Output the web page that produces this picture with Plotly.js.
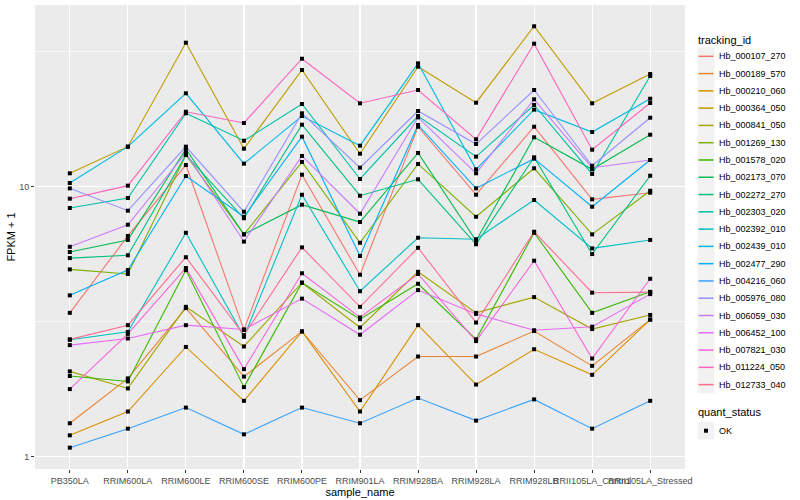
<!DOCTYPE html>
<html>
<head>
<meta charset="utf-8">
<script src="https://cdn.plot.ly/plotly-3.0.1.min.js"></script>
<style>html,body{margin:0;padding:0;background:#fff}#chart{width:800px;height:500px}</style>
</head>
<body>
<div id="chart"></div>
<script>
// ---- data (FPKM + 1) ----
const samples = ['PB350LA','RRIM600LA','RRIM600LE','RRIM600SE','RRIM600PE','RRIM901LA','RRIM928BA','RRIM928LA','RRIM928LB','RRII105LA_Control','RRII105LA_Stressed'];
const trackingIds = ['Hb_000107_270','Hb_000189_570','Hb_000210_060','Hb_000364_050','Hb_000841_050','Hb_001269_130','Hb_001578_020','Hb_002173_070','Hb_002272_270','Hb_002303_020','Hb_002392_010','Hb_002439_010','Hb_002477_290','Hb_004216_060','Hb_005976_080','Hb_006059_030','Hb_006452_100','Hb_007821_030','Hb_011224_050','Hb_012733_040'];
const hb_000107_270 = [3.41, 6.57, 12.03, 2.95, 11.08, 4.72, 16.68, 9.34, 16.68, 8.98, 9.50];
const hb_000189_570 = [1.33, 1.95, 3.55, 1.98, 2.91, 1.62, 2.35, 2.35, 2.92, 2.17, 3.22];
const hb_000210_060 = [1.20, 1.47, 2.55, 1.61, 2.91, 1.47, 3.07, 1.85, 2.50, 2.01, 3.22];
const hb_000364_050 = [11.21, 14.07, 34.15, 13.83, 27.05, 13.25, 27.83, 20.47, 39.28, 20.37, 26.15];
const hb_000841_050 = [2.07, 1.79, 3.59, 2.56, 4.41, 3.01, 4.84, 3.41, 3.90, 2.97, 3.35];
const hb_001269_130 = [4.94, 4.75, 13.11, 6.66, 12.35, 6.20, 12.14, 7.74, 11.70, 6.66, 9.66];
const hb_001578_020 = [1.99, 1.90, 4.91, 1.81, 4.41, 3.23, 4.37, 2.72, 6.75, 3.41, 4.08];
const hb_002173_070 = [5.73, 6.35, 13.79, 6.66, 8.58, 7.40, 13.33, 6.31, 15.24, 11.60, 15.58];
const hb_002272_270 = [5.44, 5.57, 13.11, 7.64, 16.97, 9.26, 10.65, 6.12, 12.85, 5.63, 10.98];
const hb_002303_020 = [8.34, 9.08, 18.70, 14.80, 20.25, 10.68, 18.27, 12.92, 20.07, 11.15, 25.70];
const hb_002392_010 = [2.71, 2.90, 6.75, 2.78, 9.34, 4.10, 6.47, 6.39, 8.93, 5.91, 6.35];
const hb_002439_010 = [10.32, 14.07, 22.18, 12.17, 18.27, 14.19, 28.64, 11.60, 19.29, 15.94, 21.18];
const hb_002477_290 = [3.96, 4.91, 10.95, 7.74, 15.32, 5.54, 16.93, 9.86, 12.70, 8.43, 12.56];
const hb_004216_060 = [1.08, 1.27, 1.52, 1.21, 1.52, 1.33, 1.65, 1.36, 1.63, 1.27, 1.61];
const hb_005976_080 = [9.86, 8.15, 14.07, 8.08, 18.70, 11.76, 19.07, 14.39, 22.81, 11.96, 18.01];
const hb_006059_030 = [5.99, 7.23, 13.33, 6.26, 13.00, 7.94, 18.07, 11.21, 21.07, 11.76, 12.56];
const hb_006452_100 = [2.59, 2.74, 3.07, 2.96, 3.85, 2.83, 4.14, 3.38, 2.94, 3.03, 4.00];
const hb_007821_030 = [1.78, 2.85, 5.00, 2.11, 4.78, 3.28, 4.75, 2.68, 5.32, 2.31, 4.56];
const hb_011224_050 = [9.03, 10.09, 18.95, 17.22, 29.79, 20.37, 22.81, 14.98, 33.86, 13.71, 20.42];
const hb_012733_040 = [2.72, 3.07, 5.48, 2.82, 5.96, 3.59, 5.94, 3.14, 6.81, 4.05, 4.07];
const quantStatus = ['OK'];
const yTickVals = [1, 10];
const yTickText = ['1', '10'];

const seriesValues = [hb_000107_270, hb_000189_570, hb_000210_060, hb_000364_050, hb_000841_050, hb_001269_130, hb_001578_020, hb_002173_070, hb_002272_270, hb_002303_020, hb_002392_010, hb_002439_010, hb_002477_290, hb_004216_060, hb_005976_080, hb_006059_030, hb_006452_100, hb_007821_030, hb_011224_050, hb_012733_040];

// ---- styles ----
const palette = ['#F8766D','#EA8331','#D89000','#C09B00','#A3A500','#7CAE00','#39B600','#00BB4E','#00BF7D','#00C1A3','#00BFC4','#00BAE0','#00B0F6','#35A2FF','#9590FF','#C77CFF','#E76BF3','#FA62DB','#FF62BC','#FF6C91'];
const FONT = 'Liberation Sans, Arial, sans-serif';

const traces = [];
seriesValues.forEach((vals, i) => {
  traces.push({
    type: 'scatter', mode: 'lines', x: samples, y: vals, name: trackingIds[i],
    line: {color: palette[i], width: 1.1}, showlegend: false, hoverinfo: 'skip'
  });
});
const allX = [], allY = [];
seriesValues.forEach(vals => vals.forEach((v, j) => { allX.push(samples[j]); allY.push(v); }));
traces.push({
  type: 'scatter', mode: 'markers', x: allX, y: allY, name: quantStatus[0],
  marker: {symbol: 'square', size: 4, color: '#000'}, showlegend: false, hoverinfo: 'skip'
});

// ---- manual ggplot-like legend ----
const L = 35, R = 685, T = 5, B = 469;
const px = v => (v - L) / (R - L);
const py = v => (B - v) / (B - T);
const shapes = [], annotations = [];
annotations.push({xref:'paper', yref:'paper', x: px(696), y: py(40), xanchor:'left', yanchor:'middle', showarrow:false, text:'tracking_id', font:{family:FONT, size:11, color:'#000'}});
trackingIds.forEach((id, i) => {
  const cy = 56.3 + 17.28 * i;
  shapes.push({type:'rect', xref:'paper', yref:'paper', x0: px(697.5), x1: px(714.5), y0: py(cy - 8.64), y1: py(cy + 8.64), fillcolor:'#F2F2F2', line:{width:0}, layer:'above'});
  shapes.push({type:'line', xref:'paper', yref:'paper', x0: px(698.5), x1: px(713.5), y0: py(cy), y1: py(cy), line:{color: palette[i], width: 1.5}, layer:'above'});
  annotations.push({xref:'paper', yref:'paper', x: px(717), y: py(cy), xanchor:'left', yanchor:'middle', showarrow:false, text:id, font:{family:FONT, size:9, color:'#000'}});
});
annotations.push({xref:'paper', yref:'paper', x: px(696), y: py(412), xanchor:'left', yanchor:'middle', showarrow:false, text:'quant_status', font:{family:FONT, size:11, color:'#000'}});
shapes.push({type:'rect', xref:'paper', yref:'paper', x0: px(697.5), x1: px(714.5), y0: py(430.7 - 8.64), y1: py(430.7 + 8.64), fillcolor:'#F2F2F2', line:{width:0}, layer:'above'});
shapes.push({type:'rect', xref:'paper', yref:'paper', x0: px(704), x1: px(708), y0: py(432.7), y1: py(428.7), fillcolor:'#000', line:{width:0}, layer:'above'});
annotations.push({xref:'paper', yref:'paper', x: px(717), y: py(430.7), xanchor:'left', yanchor:'middle', showarrow:false, text:quantStatus[0], font:{family:FONT, size:9, color:'#000'}});

const layout = {
  width: 800, height: 500,
  margin: {l: L, r: 800 - R, t: T, b: 500 - B, pad: 0},
  paper_bgcolor: '#FFFFFF', plot_bgcolor: '#EBEBEB',
  font: {family: FONT, size: 9, color: '#4D4D4D'},
  showlegend: false,
  xaxis: {
    type: 'category', range: [-0.6, samples.length - 0.4], automargin: false,
    showgrid: true, gridcolor: '#FFFFFF', gridwidth: 1.2, zeroline: false, showline: false,
    ticks: 'outside', ticklen: 3, tickwidth: 1, tickcolor: '#333333', tickangle: 0,
    tickfont: {family: FONT, size: 9, color: '#4D4D4D'},
    title: {text: 'sample_name', font: {family: FONT, size: 11, color: '#000'}, standoff: 2}
  },
  yaxis: {
    type: 'log', range: [-0.0456, 1.673], automargin: false,
    tickmode: 'array', tickvals: yTickVals, ticktext: yTickText,
    showgrid: true, gridcolor: '#FFFFFF', gridwidth: 1.2, zeroline: false, showline: false,
    ticks: 'outside', ticklen: 3, tickwidth: 1, tickcolor: '#333333',
    tickfont: {family: FONT, size: 9, color: '#4D4D4D'},
    minor: {tickmode: 'array', tickvals: [3.1623, 31.623], showgrid: true, gridcolor: '#FFFFFF', gridwidth: 0.6, ticks: ''},
    title: {text: 'FPKM + 1', font: {family: FONT, size: 11, color: '#000'}, standoff: 1}
  },
  shapes: shapes,
  annotations: annotations
};

Plotly.newPlot('chart', traces, layout, {displayModeBar: false, staticPlot: true});
</script>
</body>
</html>
